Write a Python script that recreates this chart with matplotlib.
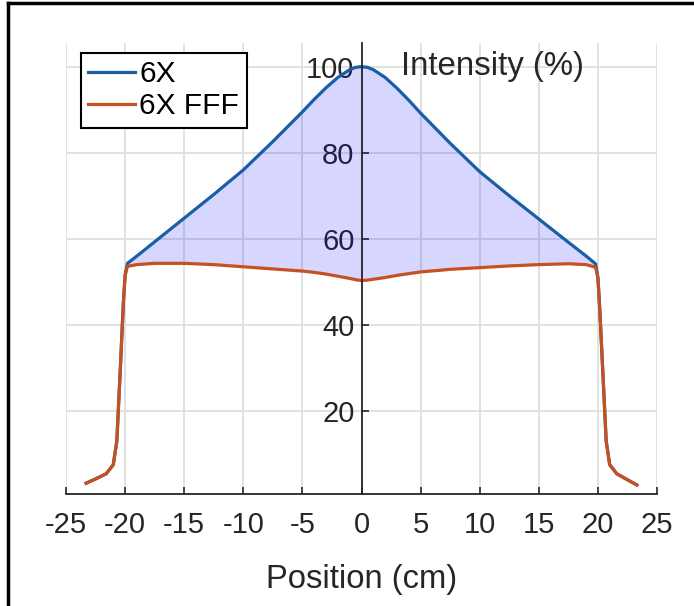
import matplotlib
matplotlib.use("Agg")
import matplotlib.pyplot as plt
from matplotlib.lines import Line2D
import numpy as np

plt.rcParams['font.family'] = ['Liberation Sans', 'DejaVu Sans']

# beam profile, position in cm, intensity in %
position = [-23.3, -22.5, -21.6, -21.0, -20.7, -20.4, -20.15, -20.0,
            -19.8, -19.0, -17.5, -15.0, -12.5, -10.0, -7.5, -5.0, -4.0, -3.0, -2.0, -1.0, -0.5,
            0.0,
            0.5, 1.0, 2.0, 3.0, 4.0, 5.0, 7.5, 10.0, 12.5, 15.0, 17.5, 19.0, 19.8,
            20.0, 20.15, 20.4, 20.7, 21.0, 21.6, 22.5, 23.3]
flat_6x = [3.2, 4.2, 5.4, 7.5, 13.0, 30.0, 45.0, 51.5,
           54.3, 56.0, 59.3, 64.8, 70.3, 76.0, 82.6, 89.5, 92.4, 95.1, 97.5, 99.3, 99.85,
           100.0,
           99.85, 99.3, 97.5, 95.0, 92.2, 89.2, 82.2, 75.6, 70.0, 64.6, 59.2, 56.0, 54.2,
           51.0, 44.0, 30.0, 13.0, 7.5, 5.4, 4.0, 2.8]
fff_6x = [3.2, 4.2, 5.4, 7.5, 13.0, 30.0, 45.0, 51.5,
          53.6, 54.0, 54.3, 54.3, 54.0, 53.5, 53.0, 52.5, 52.2, 51.8, 51.3, 50.8, 50.5,
          50.3,
          50.4, 50.6, 51.0, 51.5, 51.9, 52.3, 52.9, 53.3, 53.7, 54.0, 54.2, 54.0, 53.4,
          51.0, 44.0, 30.0, 13.0, 7.5, 5.4, 4.0, 2.8]
x_ticks = [-25, -20, -15, -10, -5, 0, 5, 10, 15, 20, 25]
y_ticks = [20, 40, 60, 80, 100]

pos = np.array(position)
y6 = np.array(flat_6x)
yf = np.array(fff_6x)

fig = plt.figure(figsize=(6.94, 6.06), dpi=100)
ax = fig.add_axes([66/694, 1 - 494/606, (657 - 66)/694, (494 - 43)/606])

inside = np.abs(pos) <= 19.8
ax.fill_between(pos, yf, y6, where=inside, color=(0, 0, 1), alpha=0.16, lw=0)
ax.plot(pos, y6, color='#1a5ea6', lw=2.3, label='6X')
ax.plot(pos, yf, color='#c65020', lw=2.3, label='6X FFF')

ax.set_xlim(-25, 25)
ax.set_ylim(0.7, 105.5)
ax.set_xticks(x_ticks)
ax.set_xticklabels([str(t) for t in x_ticks])
ax.set_yticks(y_ticks)

ax.spines['left'].set_position(('data', 0))
ax.spines['right'].set_visible(False)
ax.spines['top'].set_visible(False)
for s in ['left', 'bottom']:
    ax.spines[s].set_color('#262626')
    ax.spines[s].set_linewidth(1.3)

ax.tick_params(direction='in', length=5, width=1.2, colors='#262626', labelsize=21)
ax.tick_params(axis='x', pad=12)
ax.tick_params(axis='y', pad=5)
ax.grid(True, color='#dedede', lw=1.3)
ax.set_axisbelow(True)

ax.set_xlabel('Position (cm)', fontsize=23.6, color='#262626', labelpad=18)
ax.text(3.3, 100, 'Intensity (%)', fontsize=23.8, color='#262626', ha='left', va='center')

leg = ax.legend(loc='upper left', bbox_to_anchor=(81/694, 1 - 53/606),
                bbox_transform=fig.transFigure, fontsize=21.5, frameon=True,
                fancybox=False, edgecolor='black', framealpha=1, borderpad=0.25,
                handlelength=1.55, handletextpad=0.15, labelspacing=0.12,
                borderaxespad=0)
leg.get_frame().set_linewidth(1.5)

# frame of the picture (left and top edges)
fig.add_artist(Line2D([8/694, 8/694], [0, 1 - 3/606], transform=fig.transFigure,
                      color='black', lw=2.5))
fig.add_artist(Line2D([8/694, 1], [1 - 3/606, 1 - 3/606], transform=fig.transFigure,
                      color='black', lw=2.5))

fig.savefig('out.png', dpi=100)
